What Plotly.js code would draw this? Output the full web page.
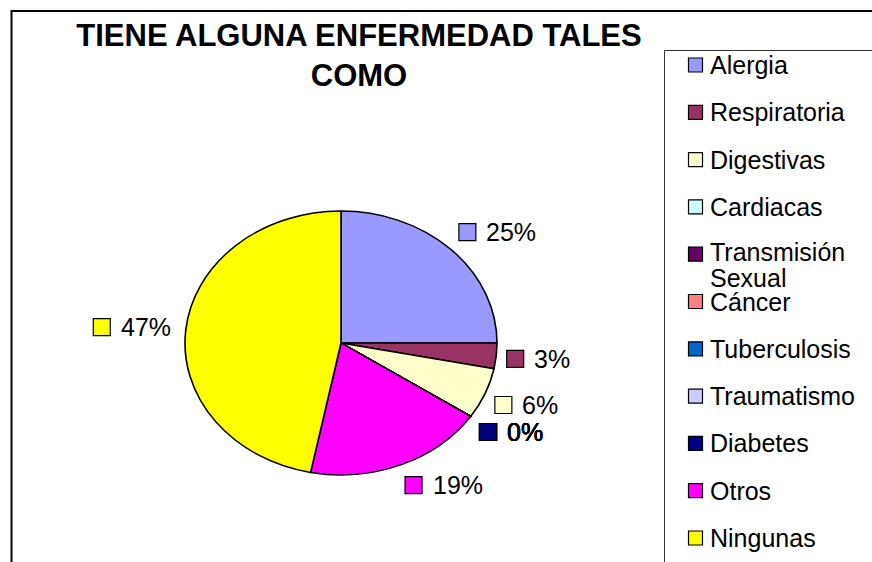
<!DOCTYPE html>
<html>
<head>
<meta charset="utf-8">
<script src="https://cdn.plot.ly/plotly-3.0.1.min.js"></script>
<style>
  body { margin: 0; background: #fff; }
  #chart { width: 872px; height: 562px; }
</style>
</head>
<body>
<div id="chart"></div>
<script>
// datos de la encuesta
var categorias = ['Alergia', 'Respiratoria', 'Digestivas', 'Cardiacas', 'Transmisión Sexual', 'Cáncer',
                  'Tuberculosis', 'Traumatismo', 'Diabetes', 'Otros', 'Ningunas'];
var casos = [8, 1, 2, 0, 0, 0, 0, 0, 0, 6, 15];
var colores = ['#9999FF', '#993366', '#FFFFCC', '#CCFFFF', '#660066', '#FF8080',
               '#0066CC', '#CCCCFF', '#000080', '#FF00FF', '#FFFF00'];
var titulo = 'TIENE ALGUNA ENFERMEDAD TALES<br>COMO';

var W = 872, H = 562;
var cx = 341, cy = 343, rx = 156, ry = 132;   // pastel algo aplastado como en Excel
var fuente = 'Liberation Sans, Arial, sans-serif';

var total = casos.reduce((a, b) => a + b, 0);
var clamp = v => Math.max(-1, Math.min(1, v));

// etiquetas de porcentaje alrededor del pastel
var labX = [], labY = [], labCol = [];
var anotaciones = [];
var acum = 0;
casos.forEach((v, i) => {
  var mid = (acum + v / 2) / total;
  acum += v;
  var th = 2 * Math.PI * mid, s = Math.sin(th), c = Math.cos(th);
  var txt = Math.round(100 * v / total) + '%';
  var w = 29 + txt.length * 18, h = 18;
  var ax = cx + (rx + 10) * s, ay = cy - (ry + 12) * c;
  var left = ax + w / 2 * clamp(3 * s) - w / 2;
  var my = ay - h / 2 * clamp(2 * c);
  labX.push(left + 9);
  labY.push(my);
  labCol.push(colores[i]);
  anotaciones.push({
    x: left + 26, y: my, xref: 'x', yref: 'y', text: txt, showarrow: false,
    xanchor: 'left', yanchor: 'middle',
    font: { family: fuente, size: 25, color: '#000' }
  });
});

// leyenda a mano (el espaciado de Excel es mas amplio)
var legY = categorias.map((_, i) => 65 + 47.3 * i);
categorias.forEach((nombre, i) => {
  var lineas = nombre.length > 12 ? nombre.split(' ') : [nombre];
  lineas.forEach((t, j) => {
    anotaciones.push({
      x: 709, y: legY[i] - 2 * (lineas.length - 1) + 26 * j, xref: 'x', yref: 'y',
      text: t, showarrow: false, xanchor: 'left', yanchor: 'middle', borderpad: 0,
      font: { family: fuente, size: 25, color: '#000' }
    });
  });
});

var data = [
  {
    type: 'pie',
    values: casos,
    labels: categorias,
    sort: false,
    direction: 'clockwise',
    rotation: 0,
    textinfo: 'none',
    hoverinfo: 'skip',
    showlegend: false,
    marker: { colors: colores, line: { color: '#000', width: 1.6 } },
    domain: { x: [(cx - rx) / W, (cx + rx) / W], y: [1 - (cy + rx) / H, 1 - (cy - rx) / H] }
  },
  {
    type: 'scatter', mode: 'markers', x: labX, y: labY, hoverinfo: 'skip', showlegend: false,
    marker: { symbol: 'square', size: 17, color: labCol, line: { color: '#000', width: 1.2 } }
  },
  {
    type: 'scatter', mode: 'markers', x: categorias.map(() => 695.5), y: legY, hoverinfo: 'skip', showlegend: false,
    marker: { symbol: 'square', size: 14, color: colores, line: { color: '#000', width: 1.2 } }
  }
];

var layout = {
  width: W,
  height: H,
  margin: { l: 0, r: 0, t: 0, b: 0 },
  paper_bgcolor: '#fff',
  plot_bgcolor: 'rgba(0,0,0,0)',
  showlegend: false,
  hovermode: false,
  font: { family: fuente },
  title: {
    text: titulo,
    x: 359 / W, xanchor: 'center',
    y: 0.918, yanchor: 'top', yref: 'container',
    font: { family: fuente, size: 31, weight: 'bold', color: '#000' }
  },
  xaxis: { range: [0, W], visible: false, fixedrange: true },
  yaxis: { range: [H, 0], visible: false, fixedrange: true },
  annotations: anotaciones,
  shapes: [
    { type: 'rect', xref: 'x', yref: 'y', x0: 11.5, y0: 11, x1: 900, y1: 600,
      line: { color: '#000', width: 2 }, fillcolor: 'rgba(0,0,0,0)' },
    { type: 'rect', xref: 'x', yref: 'y', x0: 664.5, y0: 50.5, x1: 900, y1: 600,
      line: { color: '#333', width: 1 }, fillcolor: 'rgba(0,0,0,0)' }
  ]
};

Plotly.newPlot('chart', data, layout, { staticPlot: true }).then(function (gd) {
  // aplastar el pastel verticalmente
  var k = ry / rx;
  var capa = gd.querySelector('.pielayer');
  if (capa) capa.setAttribute('transform', 'matrix(1,0,0,' + k + ',0,' + (cy * (1 - k)) + ')');
});
</script>
</body>
</html>
